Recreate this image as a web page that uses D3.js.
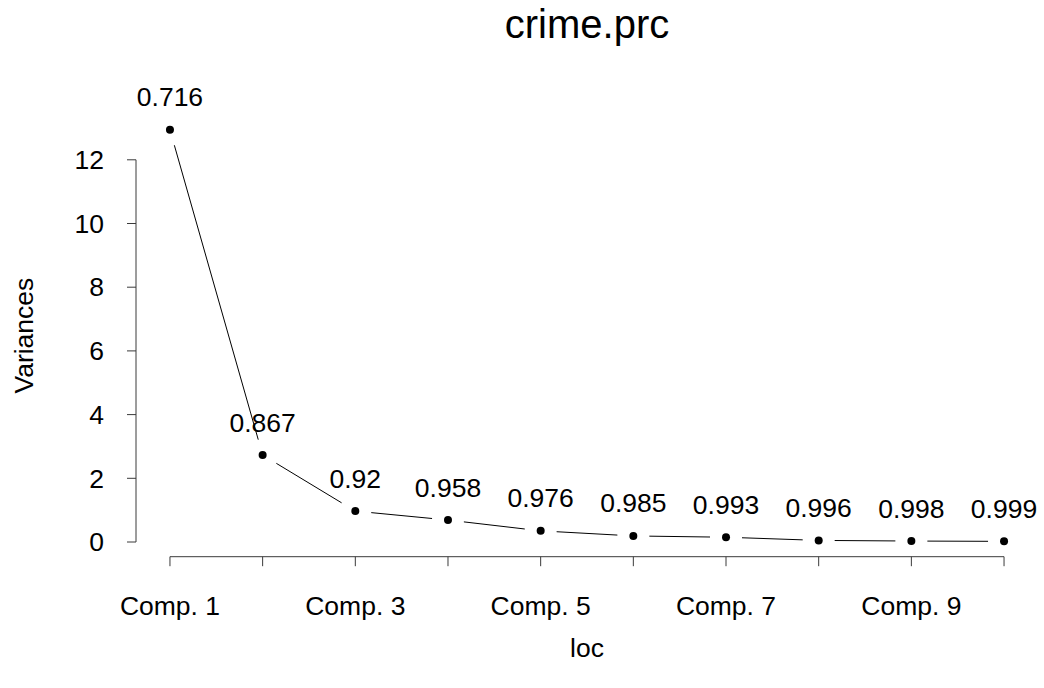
<!DOCTYPE html>
<html>
<head>
<meta charset="utf-8">
<script src="https://cdn.jsdelivr.net/npm/d3@7"></script>
<style>
  html, body { margin: 0; padding: 0; background: #fff; }
  svg { display: block; font-family: "Liberation Sans", Arial, Helvetica, sans-serif; }
</style>
</head>
<body>
<svg id="chart" width="1044" height="688"></svg>
<script>
// Principal component variances (scree) with cumulative proportion labels
const components = ["Comp. 1", "Comp. 2", "Comp. 3", "Comp. 4", "Comp. 5",
                    "Comp. 6", "Comp. 7", "Comp. 8", "Comp. 9", "Comp. 10"];
const variances = [12.94, 2.73, 0.97, 0.69, 0.35, 0.19, 0.15, 0.05, 0.03, 0.02];
const cumulative = ["0.716", "0.867", "0.92", "0.958", "0.976",
                    "0.985", "0.993", "0.996", "0.998", "0.999"];
const yTicks = [0, 2, 4, 6, 8, 10, 12];

const svg = d3.select("#chart");
const W = 1044, H = 688;
const fontSize = 26.5;

// plot region (R-style 4% extension around the data range)
const xIdx = components.map((d, i) => i + 1);
const xExt = d3.extent(xIdx), xPad = (xExt[1] - xExt[0]) * 0.04;
const yExt = d3.extent(variances), yPad = (yExt[1] - yExt[0]) * 0.04;

const x = d3.scaleLinear()
  .domain([xExt[0] - xPad, xExt[1] + xPad])
  .range([136.6, 1037.4]);
// y scale: 0 -> 542px, 12 -> 159.8px
const pxPerUnit = (542 - 159.8) / 12;
const y = d3.scaleLinear()
  .domain([0, 12])
  .range([542, 542 - 12 * pxPerUnit]);

const plotTop = y(yExt[1] + yPad), plotBottom = y(yExt[0] - yPad);
const plotLeft = x.range()[0], plotRight = x.range()[1];
const axisColor = "#3a3a3a";

// title
svg.append("text")
  .attr("x", (plotLeft + plotRight) / 2)
  .attr("y", 38)
  .attr("text-anchor", "middle")
  .attr("font-size", 40)
  .text("crime.prc");

// y axis
const yAxis = svg.append("g");
yAxis.append("line")
  .attr("x1", 136).attr("x2", 136)
  .attr("y1", y(0)).attr("y2", y(12))
  .attr("stroke", axisColor).attr("stroke-width", 1);
yAxis.selectAll("line.tick").data(yTicks).join("line")
  .attr("class", "tick")
  .attr("x1", 127).attr("x2", 136)
  .attr("y1", d => y(d)).attr("y2", d => y(d))
  .attr("stroke", axisColor).attr("stroke-width", 1);
yAxis.selectAll("text").data(yTicks).join("text")
  .attr("x", 104)
  .attr("y", d => y(d))
  .attr("dy", "0.35em")
  .attr("text-anchor", "end")
  .attr("font-size", fontSize)
  .text(d => d);

// x axis
const xAxisY = 556.7;
const xAxis = svg.append("g");
xAxis.append("line")
  .attr("x1", x(1)).attr("x2", x(10))
  .attr("y1", xAxisY).attr("y2", xAxisY)
  .attr("stroke", axisColor).attr("stroke-width", 1);
xAxis.selectAll("line.tick").data(xIdx).join("line")
  .attr("class", "tick")
  .attr("x1", d => x(d)).attr("x2", d => x(d))
  .attr("y1", xAxisY).attr("y2", xAxisY + 9.5)
  .attr("stroke", axisColor).attr("stroke-width", 1);
// labels that would overlap are skipped, leaving every other one
xAxis.selectAll("text").data(components.filter((d, i) => i % 2 === 0)).join("text")
  .attr("x", d => x(components.indexOf(d) + 1))
  .attr("y", 615)
  .attr("text-anchor", "middle")
  .attr("font-size", fontSize)
  .text(d => d);

// axis titles
svg.append("text")
  .attr("transform", `translate(33,${(plotTop + plotBottom) / 2}) rotate(-90)`)
  .attr("text-anchor", "middle")
  .attr("font-size", fontSize)
  .text("Variances");
svg.append("text")
  .attr("x", (plotLeft + plotRight) / 2)
  .attr("y", 657)
  .attr("text-anchor", "middle")
  .attr("font-size", fontSize)
  .text("loc");

// connecting segments, broken around each point
const gap = 16;
const pts = variances.map((v, i) => [x(i + 1), y(v)]);
const segs = d3.pairs(pts).map(([a, b]) => {
  const dx = b[0] - a[0], dy = b[1] - a[1];
  const len = Math.hypot(dx, dy);
  const ux = dx / len, uy = dy / len;
  return [a[0] + ux * gap, a[1] + uy * gap, b[0] - ux * gap, b[1] - uy * gap];
});
svg.append("g").selectAll("line").data(segs).join("line")
  .attr("x1", d => d[0]).attr("y1", d => d[1])
  .attr("x2", d => d[2]).attr("y2", d => d[3])
  .attr("stroke", "#000").attr("stroke-width", 1);

// points
svg.append("g").selectAll("circle").data(variances).join("circle")
  .attr("cx", (d, i) => x(i + 1))
  .attr("cy", d => y(d))
  .attr("r", 4)
  .attr("fill", "#000");

// cumulative proportion labels above the points
svg.append("g").selectAll("text").data(variances).join("text")
  .attr("x", (d, i) => x(i + 1))
  .attr("y", d => y(d) - 23.5)
  .attr("text-anchor", "middle")
  .attr("font-size", fontSize)
  .text((d, i) => cumulative[i]);
</script>
</body>
</html>
